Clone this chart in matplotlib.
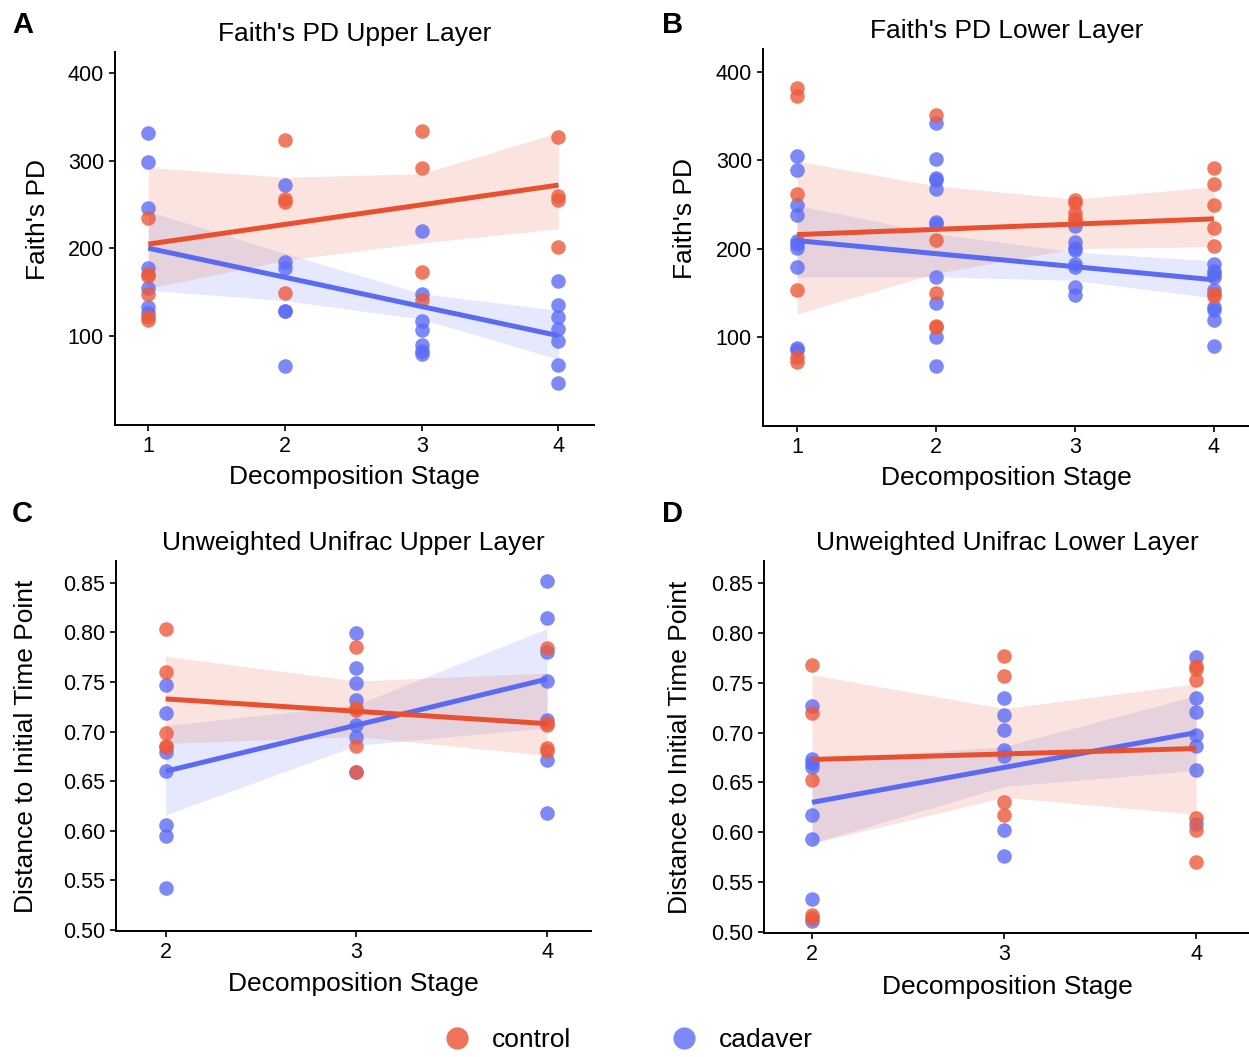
import matplotlib
matplotlib.use("Agg")
import matplotlib.pyplot as plt
from matplotlib.lines import Line2D

plt.rcParams["font.family"] = ["Liberation Sans", "DejaVu Sans"]

# ===============================
# colours
# ===============================
RED_PT = "#EC5A3C"
BLUE_PT = "#5B6CF5"
RED_LN = "#E8502F"
BLUE_LN = "#5A6BF2"

# ===============================
# data
# ===============================
# Panel A - Faith's PD upper layer
a_stages = [1, 2, 3, 4]
a_control = [
    [234, 171, 168, 148, 121, 118],
    [324, 256, 253, 149],
    [334, 292, 173, 141],
    [327, 260, 255, 201],
]
a_cadaver = [
    [331, 298, 246, 177, 155, 133, 126],
    [272, 184, 177, 128, 128, 65],
    [219, 148, 117, 107, 89, 83, 79],
    [162, 135, 121, 108, 94, 66, 46],
]
a_control_fit = [204.6, 227.1, 249.5, 272.0]
a_control_lo = [154, 186, 206, 222]
a_control_hi = [292, 281, 285, 332]
a_cadaver_fit = [200.0, 166.7, 133.3, 100.0]
a_cadaver_lo = [152, 140, 119, 73]
a_cadaver_hi = [242, 194, 148, 129]

# Panel B - Faith's PD lower layer
b_stages = [1, 2, 3, 4]
b_control = [
    [382, 373, 262, 153, 77, 72],
    [351, 210, 150, 112, 111],
    [255, 252, 240, 235, 232],
    [291, 273, 249, 223, 203, 149, 146],
]
b_cadaver = [
    [305, 289, 249, 238, 209, 205, 201, 179, 87, 85],
    [342, 301, 280, 278, 267, 230, 228, 168, 138, 100, 67],
    [226, 207, 201, 198, 182, 179, 156, 147],
    [182, 175, 171, 168, 153, 134, 130, 119, 90],
]
b_control_fit = [215.8, 221.7, 227.7, 233.6]
b_control_lo = [126, 172, 200, 202]
b_control_hi = [299, 271, 256, 270]
b_cadaver_fit = [209.0, 194.2, 179.4, 164.6]
b_cadaver_lo = [168, 168, 164, 144]
b_cadaver_hi = [249, 217, 196, 186]

# Panel C - unweighted unifrac upper layer
c_stages = [2, 3, 4]
c_control = [
    [0.803, 0.760, 0.699, 0.686, 0.684],
    [0.785, 0.724, 0.722, 0.686, 0.659],
    [0.784, 0.709, 0.707, 0.683, 0.680],
]
c_cadaver = [
    [0.747, 0.719, 0.679, 0.660, 0.606, 0.595, 0.542],
    [0.799, 0.764, 0.749, 0.732, 0.707, 0.695, 0.659],
    [0.852, 0.815, 0.780, 0.751, 0.712, 0.671, 0.618],
]
c_control_fit = [0.733, 0.7205, 0.708]
c_control_lo = [0.688, 0.695, 0.676]
c_control_hi = [0.776, 0.751, 0.759]
c_cadaver_fit = [0.660, 0.7065, 0.753]
c_cadaver_lo = [0.616, 0.686, 0.704]
c_cadaver_hi = [0.706, 0.727, 0.804]

# Panel D - unweighted unifrac lower layer
d_stages = [2, 3, 4]
d_control = [
    [0.768, 0.720, 0.652, 0.517, 0.514],
    [0.777, 0.757, 0.630, 0.617],
    [0.767, 0.764, 0.753, 0.614, 0.602, 0.570],
]
d_cadaver = [
    [0.727, 0.673, 0.669, 0.665, 0.617, 0.593, 0.533, 0.511],
    [0.735, 0.718, 0.703, 0.682, 0.676, 0.602, 0.576],
    [0.776, 0.735, 0.721, 0.698, 0.687, 0.662, 0.608],
]
d_control_fit = [0.673, 0.6785, 0.684]
d_control_lo = [0.589, 0.635, 0.618]
d_control_hi = [0.758, 0.724, 0.749]
d_cadaver_fit = [0.630, 0.665, 0.700]
d_cadaver_lo = [0.589, 0.646, 0.662]
d_cadaver_hi = [0.672, 0.686, 0.737]

W, H = 1249, 1057


def px_box(left, top, right, bottom):
    return [left / W, 1 - bottom / H, (right - left) / W, (bottom - top) / H]


def draw_panel(ax, stages, control, cadaver, ctrl_line, cad_line, title, ylabel):
    # bands
    ax.fill_between(stages, cad_line[1], cad_line[2], color=BLUE_PT, alpha=0.15, lw=0, zorder=1)
    ax.fill_between(stages, ctrl_line[1], ctrl_line[2], color=RED_PT, alpha=0.16, lw=0, zorder=1)
    # points
    for s, vals in zip(stages, cadaver):
        ax.scatter([s] * len(vals), vals, s=110, color=BLUE_PT, alpha=0.8, lw=0, zorder=2)
    for s, vals in zip(stages, control):
        ax.scatter([s] * len(vals), vals, s=110, color=RED_PT, alpha=0.8, lw=0, zorder=2)
    # fits
    ax.plot(stages, cad_line[0], color=BLUE_LN, lw=3.6, zorder=3, solid_capstyle="butt")
    ax.plot(stages, ctrl_line[0], color=RED_LN, lw=3.6, zorder=3, solid_capstyle="butt")

    ax.set_title(title, fontsize=19, pad=8)
    ax.set_xlabel("Decomposition Stage", fontsize=19)
    ax.set_ylabel(ylabel, fontsize=19)
    ax.set_xticks(stages)
    ax.spines["top"].set_visible(False)
    ax.spines["right"].set_visible(False)
    for sp in ("left", "bottom"):
        ax.spines[sp].set_linewidth(1.4)
    ax.tick_params(direction="out", length=4, width=1.2, labelsize=15.5, pad=4)


fig = plt.figure(figsize=(W / 100, H / 100), dpi=100)

axA = fig.add_axes(px_box(115, 52, 594, 425))
draw_panel(axA, a_stages, a_control, a_cadaver,
           (a_control_fit, a_control_lo, a_control_hi),
           (a_cadaver_fit, a_cadaver_lo, a_cadaver_hi),
           "Faith's PD Upper Layer", "Faith's PD")
axA.set_xlim(0.757, 4.26)
axA.set_ylim(-2, 424)
axA.set_yticks([100, 200, 300, 400])

axB = fig.add_axes(px_box(763, 49, 1250, 426))
draw_panel(axB, b_stages, b_control, b_cadaver,
           (b_control_fit, b_control_lo, b_control_hi),
           (b_cadaver_fit, b_cadaver_lo, b_cadaver_hi),
           "Faith's PD Lower Layer", "Faith's PD")
axB.set_xlim(0.755, 4.26)
axB.set_ylim(-1, 426)
axB.set_yticks([100, 200, 300, 400])

axC = fig.add_axes(px_box(116, 561, 591, 931))
draw_panel(axC, c_stages, c_control, c_cadaver,
           (c_control_fit, c_control_lo, c_control_hi),
           (c_cadaver_fit, c_cadaver_lo, c_cadaver_hi),
           "Unweighted Unifrac Upper Layer", "Distance to Initial Time Point")
axC.set_xlim(1.74, 4.23)
axC.set_ylim(0.499, 0.872)

axD = fig.add_axes(px_box(764, 561, 1250, 933))
draw_panel(axD, d_stages, d_control, d_cadaver,
           (d_control_fit, d_control_lo, d_control_hi),
           (d_cadaver_fit, d_cadaver_lo, d_cadaver_hi),
           "Unweighted Unifrac Lower Layer", "Distance to Initial Time Point")
axD.set_xlim(1.75, 4.28)
axD.set_ylim(0.499, 0.872)

for ax in (axC, axD):
    ax.set_yticks([0.50, 0.55, 0.60, 0.65, 0.70, 0.75, 0.80, 0.85])
    ax.set_yticklabels([f"{v:.2f}" for v in ax.get_yticks()])

# label placement
axA.xaxis.set_label_coords(0.5, -0.107)
axB.xaxis.set_label_coords(0.5, -0.107)
axC.xaxis.set_label_coords(0.5, -0.112)
axD.xaxis.set_label_coords(0.5, -0.112)
axA.yaxis.set_label_coords(-0.136, 0.55)
axB.yaxis.set_label_coords(-0.136, 0.55)
axC.yaxis.set_label_coords(-0.164, 0.5)
axD.yaxis.set_label_coords(-0.148, 0.5)

# panel letters
for letter, (x, y) in zip("ABCD", [(12, 33), (662, 33), (12, 522), (662, 522)]):
    fig.text(x / W, 1 - y / H, letter, fontsize=21, fontweight="bold", ha="left", va="baseline")

# legend
handles = [
    Line2D([], [], marker="o", ls="", color=RED_PT, alpha=0.85, ms=16, mew=0),
    Line2D([], [], marker="o", ls="", color=BLUE_PT, alpha=0.8, ms=16, mew=0),
]
fig.legend(handles, ["control", "cadaver"], loc="center", bbox_to_anchor=(0.503, 0.016),
           ncol=2, frameon=False, fontsize=19, handlelength=1.0, handletextpad=0.8,
           columnspacing=3.8)

fig.savefig("out.png", dpi=100)
